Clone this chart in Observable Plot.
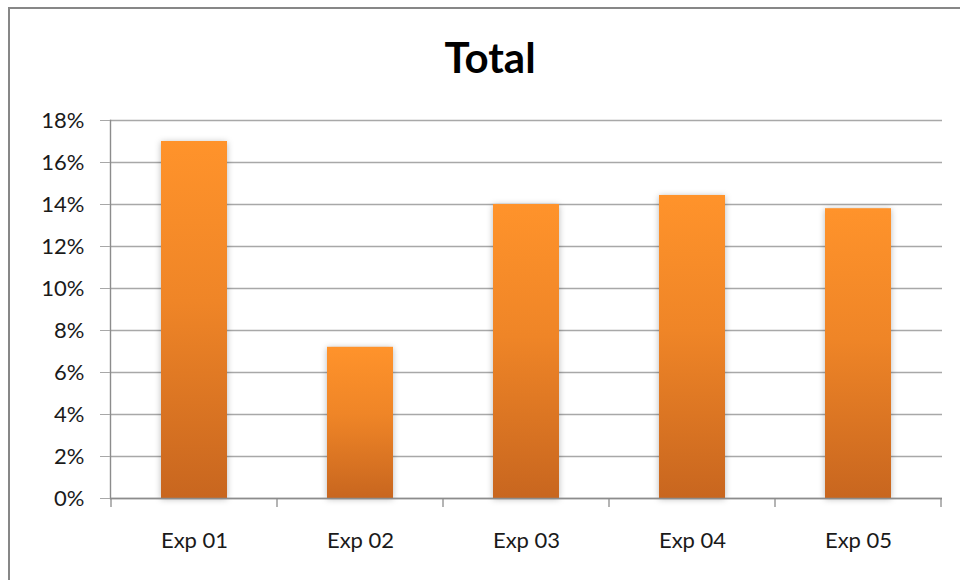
<!DOCTYPE html>
<html>
<head>
<meta charset="utf-8">
<script src="https://cdn.jsdelivr.net/npm/d3@7"></script>
<script src="https://cdn.jsdelivr.net/npm/@observablehq/plot@0.6"></script>
<style>
  html, body { margin: 0; padding: 0; background: #fff; overflow: hidden; }
  #chart { position: relative; width: 960px; height: 580px; overflow: hidden; font-family: Lato, "Open Sans", sans-serif; }
  #border { position: absolute; left: 8px; top: 7px; width: 1000px; height: 620px; border-left: 2px solid #878787; border-top: 2px solid #878787; }
  #title { position: absolute; left: 390px; width: 200px; top: 36px; margin: 0; text-align: center; font: bold 42px/42px Lato, "Open Sans", sans-serif; color: #000; }
  #plot { position: absolute; left: 0; top: 0; }
  #plot svg g[aria-label="bar"] rect { filter: drop-shadow(0px 1px 3px rgba(0,0,0,0.28)); }
</style>
</head>
<body>
<div id="chart">
  <div id="border"></div>
  <div id="plot"></div>
  <h1 id="title">Total</h1>
</div>
<script>
// Share of total per experiment
const categories = ["Exp 01", "Exp 02", "Exp 03", "Exp 04", "Exp 05"];
const values = [0.17, 0.072, 0.14, 0.1443, 0.138];
const yTicks = [0, 0.02, 0.04, 0.06, 0.08, 0.10, 0.12, 0.14, 0.16, 0.18];

const data = categories.map((name, i) => ({name, value: values[i]}));

// Vertical orange gradient shared by every bar (bounding-box units, so each bar gets the full ramp)
function gradientDefs() {
  const defs = d3.create("svg:defs");
  const g = defs.append("linearGradient")
    .attr("id", "barGrad")
    .attr("x1", 0).attr("y1", 0).attr("x2", 0).attr("y2", 1);
  g.append("stop").attr("offset", "0%").attr("stop-color", "#ff932b");
  g.append("stop").attr("offset", "45%").attr("stop-color", "#ef8527");
  g.append("stop").attr("offset", "100%").attr("stop-color", "#c8661f");
  return defs.node();
}

// Short ticks under the category axis, at the boundaries between categories
function categoryBoundaries(index, scales) {
  const x = scales.x;
  const y0 = scales.y(0);
  const step = x(categories[1]) - x(categories[0]);
  const bw = typeof x.bandwidth === "function" ? x.bandwidth() : step * 0.4;
  const gap = (step - bw) / 2;
  const bounds = categories.map(c => x(c) - gap);
  bounds.push(x(categories[categories.length - 1]) + bw + gap);
  const g = d3.create("svg:g").attr("stroke", "#8c8c8c").attr("stroke-width", 1.3);
  g.selectAll("line").data(bounds).join("line")
    .attr("x1", d => d).attr("x2", d => d)
    .attr("y1", y0).attr("y2", y0 + 9);
  return g.node();
}

const plot = Plot.plot({
  width: 960,
  height: 580,
  marginLeft: 110,
  marginRight: 18,
  marginTop: 120,
  marginBottom: 82,
  style: {fontFamily: "Lato, 'Open Sans', sans-serif", background: "transparent", overflow: "visible"},
  x: {domain: categories, paddingInner: 0.6, paddingOuter: 0.3, axis: null},
  y: {domain: [0, 0.18], axis: null},
  marks: [
    gradientDefs,
    Plot.ruleY(yTicks, {stroke: "#a8a8a8", strokeWidth: 1.4}),
    Plot.barY(data, {x: "name", y: "value", fill: "url(#barGrad)"}),
    Plot.ruleY([0], {stroke: "#8c8c8c", strokeWidth: 1.4}),
    Plot.frame({anchor: "left", stroke: "#8c8c8c", strokeWidth: 1.4}),
    categoryBoundaries,
    Plot.axisY({
      ticks: yTicks,
      tickFormat: d3.format(".0%"),
      tickSize: 10,
      tickPadding: 16,
      stroke: "#a8a8a8",
      fill: "#1a1a1a",
      fontSize: 22,
      label: null
    }),
    Plot.axisX({
      tickSize: 0,
      tickPadding: 34,
      fill: "#1a1a1a",
      fontSize: 22,
      label: null
    })
  ]
});

document.getElementById("plot").appendChild(plot);
</script>
</body>
</html>
